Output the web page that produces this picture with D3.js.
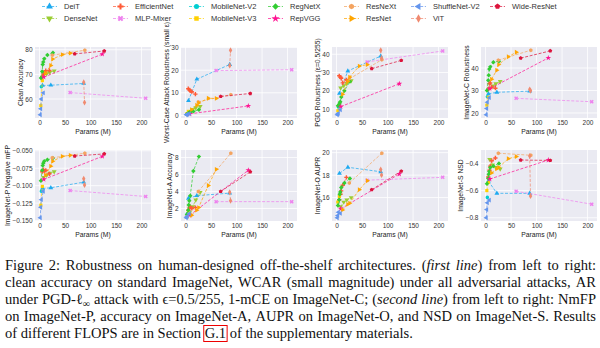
<!DOCTYPE html>
<html>
<head>
<meta charset="utf-8">
<script src="https://cdn.jsdelivr.net/npm/d3@7"></script>
<style>
  body { margin: 0; background: #fff; }
  svg { display: block; }
  .sans { font-family: "Liberation Sans", Arial, sans-serif; }
  .serif { font-family: "Liberation Serif", "Times New Roman", serif; }
</style>
</head>
<body>
<svg id="fig" width="600" height="348"></svg>
<script>
// -------------------- DATA -------------------- //
const families = ["DeiT", "DenseNet", "EfficientNet", "MLP-Mixer", "MobileNet-V2", "MobileNet-V3",
  "RegNetX", "RepVGG", "ResNeXt", "ResNet", "ShuffleNet-V2", "ViT", "Wide-ResNet"];

// params (M) of every model in a family
const paramsM = [
  [5.7, 22.1, 86.6], [8.0, 14.1, 20.0, 28.7], [5.3, 7.8, 9.1, 12.2, 19.3], [59.9, 208.2], [3.5], [2.5, 5.5],
  [2.7, 5.2, 6.2, 7.3, 9.2, 15.3, 26.2], [8.3, 123.1], [25.0, 88.8], [11.7, 21.8, 25.6, 44.5, 60.2],
  [1.4, 2.3, 3.5, 7.4], [86.6, 88.2], [68.9, 126.9]
];

const cleanAcc = [
  [65.5, 65.6, 66.3], [69.6, 70.3, 70.8, 71.4], [69.2, 70.2, 70.8, 71.5, 71.6], [62.6, 60.3], [65.0], [57.3, 67.5],
  [68.5, 71.2, 74.0, 75.0, 76.3, 77.9, 78.8], [68.9, 78.2], [77.8, 79.8], [70.5, 73.6, 76.2, 78.0, 78.6],
  [53.6, 56.0, 60.0, 62.5], [66.8, 58.6], [78.3, 79.5]
];
const wcar = [
  [6.5, 16.0, 22.5], [1.8, 2.6, 3.4, 4.0], [11.8, 11.3, 10.9, 10.5, 9.4], [19.8, 20.2], [0.9], [0.8, 1.8],
  [0.5, 0.9, 1.1, 1.3, 1.5, 1.8, 2.5], [0.7, 4.2], [6.0, 9.2], [2.6, 4.5, 5.5, 7.6, 7.5],
  [0.3, 0.4, 0.5, 0.7], [22.0, 28.8], [8.4, 9.7]
];
const pgdAR = [
  [18.5, 30.8, 39.0], [21.5, 22.8, 24.0, 25.5], [28.2, 27.4, 26.8, 24.3, 26.0], [35.8, 41.8], [11.0], [9.0, 12.0],
  [11.8, 12.5, 13.2, 14.0, 16.5, 20.0, 25.0], [11.3, 23.8], [26.5, 37.0], [18.0, 25.0, 27.5, 33.5, 34.3],
  [6.8, 7.2, 7.6, 9.5], [42.2, 37.8], [32.1, 36.6]
];
const inetC = [
  [28.5, 29.2, 29.7], [31.0, 32.0, 33.0, 34.0], [30.6, 33.0, 33.4, 31.5, 31.0], [26.5, 25.0], [27.2], [23.5, 27.0],
  [30.0, 34.5, 36.8, 39.5, 40.5, 42.6, 43.0], [30.8, 44.5], [43.5, 47.9], [35.0, 39.0, 41.5, 45.0, 47.0],
  [19.2, 22.0, 24.8, 26.8], [30.5, 29.9], [44.4, 47.6]
];
const inetP = [
  [-0.104, -0.103, -0.095], [-0.088, -0.085, -0.082, -0.080], [-0.080, -0.077, -0.079, -0.078, -0.083],
  [-0.107, -0.1155], [-0.108], [-0.128, -0.101], [-0.093, -0.078, -0.071, -0.068, -0.065, -0.063, -0.0605],
  [-0.091, -0.058], [-0.060, -0.0535], [-0.085, -0.072, -0.065, -0.058, -0.0565],
  [-0.146, -0.131, -0.120, -0.108], [-0.090, -0.099], [-0.0575, -0.0545]
];
const inetA = [
  [3.2, 3.5, 3.8], [1.5, 2.2, 3.0, 3.9], [1.8, 2.1, 2.2, 2.0, 2.1], [2.8, 2.8], [1.4], [1.0, 1.5],
  [1.3, 1.8, 2.4, 2.9, 3.5, 6.4, 8.1], [1.2, 6.5], [4.0, 8.5], [1.2, 1.8, 2.1, 4.7, 6.6],
  [0.9, 1.0, 1.1, 1.4], [3.9, 2.9], [4.0, 6.3]
];
const inetO = [
  [18.15, 18.7, 18.3], [15.2, 15.6, 15.8, 16.0], [15.8, 16.3, 16.6, 17.1, 17.8], [17.55, 17.8], [15.6], [15.6, 16.1],
  [15.3, 15.8, 16.3, 16.5, 16.9, 17.3, 17.7], [15.0, 18.1], [17.3, 19.95], [14.9, 15.4, 15.5, 16.7, 17.5],
  [14.2, 14.4, 14.7, 14.6], [18.5, 18.0], [16.7, 18.35]
];
const inetS = [
  [-0.53, -0.62, -0.62], [-0.37, -0.41, -0.43, -0.44], [-0.50, -0.45, -0.42, -0.38, -0.36], [-0.605, -0.70], [-0.65],
  [-0.60, -0.54], [-0.55, -0.51, -0.48, -0.46, -0.43, -0.42, -0.40], [-0.515, -0.375], [-0.325, -0.34],
  [-0.47, -0.44, -0.43, -0.365, -0.35], [-0.80, -0.74, -0.69, -0.67], [-0.345, -0.64], [-0.375, -0.378]
];

const panelValues = [cleanAcc, wcar, pgdAR, inetC, inetP, inetA, inetO, inetS];
const panelLabels = ["Clean Accuracy", "Worst-Case Attack Robustness (small \u03b5)", "PGD Robustness (\u03b5=0.5/255)",
  "ImageNet-C Robustness", "ImageNet-P Negative mFP", "ImageNet-A Accuracy", "ImageNet-O AUPR", "ImageNet-S NSD"];
const panelTicks = [[60, 70, 80], [0, 10, 20, 30], [10, 20, 30, 40], [20, 30, 40],
  [-0.150, -0.125, -0.100, -0.075, -0.050], [2, 4, 6, 8], [16, 18, 20], [-0.8, -0.6, -0.4]];
const panelFormats = ["d", "d", "d", "d", ".3f", "d", "d", ".1f"];
const xTicks = [0, 50, 100, 150, 200];
const xLabel = "Params (M)";

const captionLines = [
  "Figure 2: Robustness on human-designed off-the-shelf architectures. (*first* *line*) from left to right:",
  "clean accuracy on standard ImageNet, WCAR (small magnitude) under all adversarial attacks, AR",
  "under PGD-\u2113_{\u221e} attack with \u03f5=0.5/255, 1-mCE on ImageNet-C; (*second* *line*) from left to right: NmFP",
  "on ImageNet-P, accuracy on ImageNet-A, AUPR on ImageNet-O, and NSD on ImageNet-S. Results",
  "of different FLOPS are in Section [G.1] of the supplementary materials."
];

// -------------------- STYLE -------------------- //
const familyColors = ["#1eaaf0", "#9acd32", "#ff5a36", "#ee82ee", "#00ced1", "#ffd000",
  "#32cd32", "#ff1493", "#f4a460", "#ffa500", "#6495ed", "#f08a70", "#dc143c"];
const familyMarkers = ["triUp", "triDown", "plus", "xcross", "circle", "square",
  "diamond", "star", "hexagon", "triRight", "triLeft", "thinDiamond", "pentagon"];

const colLefts = [35, 181, 332, 481];
const rowTops = [47, 150];
const plotW = 116, plotH = 71;

// -------------------- MARKERS -------------------- //
function polygon(n) {
  return {
    draw(ctx, size) {
      const r = Math.sqrt(size / (n / 2 * Math.sin(2 * Math.PI / n)));
      for (let i = 0; i < n; i++) {
        const a = 2 * Math.PI * i / n;
        const px = r * Math.sin(a), py = -r * Math.cos(a);
        if (i) ctx.lineTo(px, py); else ctx.moveTo(px, py);
      }
      ctx.closePath();
    }
  };
}
const markerDefs = {
  triUp: [d3.symbolTriangle, 0], triDown: [d3.symbolTriangle, 180], triRight: [d3.symbolTriangle, 90],
  triLeft: [d3.symbolTriangle, -90], plus: [d3.symbolCross, 0], xcross: [d3.symbolCross, 45],
  circle: [d3.symbolCircle, 0], square: [d3.symbolSquare, 0], diamond: [d3.symbolSquare, 45],
  star: [d3.symbolStar, 0], hexagon: [polygon(6), 0], thinDiamond: [d3.symbolDiamond, 0], pentagon: [polygon(5), 0]
};
function drawMarker(sel, kind, size, cx, cy, color) {
  const [type, rot] = markerDefs[kind];
  sel.append("path")
    .attr("d", d3.symbol().type(type).size(size)())
    .attr("transform", `translate(${cx},${cy}) rotate(${rot})`)
    .attr("fill", color);
}

// -------------------- FIGURE -------------------- //
const svg = d3.select("#fig");
svg.append("rect").attr("width", 600).attr("height", 348).attr("fill", "#fff");

function padExtent(vals) {
  const [a, b] = d3.extent(vals);
  const p = (b - a) * 0.05;
  return [a - p, b + p];
}
const xDomain = padExtent(paramsM.flat());

panelValues.forEach((values, i) => {
  const col = i % 4, row = Math.floor(i / 4);
  const x0 = colLefts[col], y0 = rowTops[row];
  const x = d3.scaleLinear().domain(xDomain).range([x0, x0 + plotW]);
  const y = d3.scaleLinear().domain(padExtent(values.flat())).range([y0 + plotH, y0]);
  const g = svg.append("g");

  g.append("rect").attr("x", x0).attr("y", y0).attr("width", plotW).attr("height", plotH).attr("fill", "#eaeaf2");
  g.selectAll(".gx").data(xTicks).join("line")
    .attr("x1", d => x(d)).attr("x2", d => x(d)).attr("y1", y0).attr("y2", y0 + plotH)
    .attr("stroke", "#fff").attr("stroke-width", 0.8);
  g.selectAll(".gy").data(panelTicks[i]).join("line")
    .attr("x1", x0).attr("x2", x0 + plotW).attr("y1", d => y(d)).attr("y2", d => y(d))
    .attr("stroke", "#fff").attr("stroke-width", 0.8);

  // axes (labels only)
  const ax = g.append("g").attr("transform", `translate(0,${y0 + plotH})`)
    .call(d3.axisBottom(x).tickValues(xTicks).tickSize(0).tickPadding(2.5).tickFormat(d3.format("d")));
  const ay = g.append("g").attr("transform", `translate(${x0},0)`)
    .call(d3.axisLeft(y).tickValues(panelTicks[i]).tickSize(0).tickPadding(2.5).tickFormat(d3.format(panelFormats[i])));
  [ax, ay].forEach(a => {
    a.select(".domain").remove();
    a.attr("font-family", null).attr("font-size", null);
    a.selectAll("text").attr("class", "sans").attr("font-size", 6.5).attr("fill", "#333");
  });

  g.append("text").attr("class", "sans").attr("font-size", 6.8).attr("fill", "#222")
    .attr("x", x0 + plotW / 2).attr("y", y0 + plotH + 16).attr("text-anchor", "middle").text(xLabel);
  const yb = ay.node().getBBox();
  g.append("text").attr("class", "sans").attr("font-size", 6.8).attr("fill", "#222")
    .attr("transform", `translate(${x0 + yb.x - 2.5},${y0 + plotH / 2}) rotate(-90)`)
    .attr("text-anchor", "middle").text(panelLabels[i]);

  // series
  const line = d3.line().x(d => x(d[0])).y(d => y(d[1]));
  families.forEach((f, k) => {
    const pts = paramsM[k].map((p, j) => [p, values[k][j]]);
    g.append("path").attr("d", line(pts)).attr("fill", "none")
      .attr("stroke", familyColors[k]).attr("stroke-width", 0.9)
      .attr("stroke-dasharray", "3,1.6").attr("opacity", 0.8);
    pts.forEach(p => drawMarker(g, familyMarkers[k], 10, x(p[0]), y(p[1]), familyColors[k]));
  });
});

// -------------------- LEGEND -------------------- //
const legendTextX = [64, 135, 211, 290, 366, 433, 512];
const legendRowY = [6.5, 18.5];
const lg = svg.append("g");
families.forEach((f, k) => {
  const tx = legendTextX[Math.floor(k / 2)], ty = legendRowY[k % 2];
  lg.append("line").attr("x1", tx - 22).attr("x2", tx - 7).attr("y1", ty).attr("y2", ty)
    .attr("stroke", familyColors[k]).attr("stroke-width", 0.9).attr("stroke-dasharray", "3,1.6").attr("opacity", 0.8);
  drawMarker(lg, familyMarkers[k], 20, tx - 14.5, ty, familyColors[k]);
  lg.append("text").attr("class", "sans").attr("font-size", 7.5).attr("fill", "#333")
    .attr("x", tx).attr("y", ty + 2.7).text(f);
});

// -------------------- CAPTION -------------------- //
const capLeft = 5, capRight = 596, capBase = 270, capStep = 17, lastLineRight = 413;
const cap = svg.append("g").attr("class", "serif").attr("fill", "#111");
const rows = captionLines.map((ln, i) => {
  const words = ln.split(" ");
  const nodes = words.map(w => {
    const t = cap.append("text").attr("font-size", 13).attr("y", capBase + i * capStep);
    w.split(/(\*[^*]+\*|_\{[^}]+\}|\[[^\]]+\])/).filter(s => s).forEach(s => {
      const ts = t.append("tspan");
      if (s.startsWith("*")) ts.attr("font-style", "italic").text(s.slice(1, -1));
      else if (s.startsWith("_{")) ts.attr("font-size", "0.7em").attr("dy", "0.25em").text(s.slice(2, -1));
      else if (s.startsWith("[")) { ts.text(s.slice(1, -1)); t.classed("boxed", true); }
      else ts.text(s);
    });
    return t;
  });
  return nodes;
});
// scale font so that the last (unjustified) line matches the reference length
const last = rows[rows.length - 1];
const natural = d3.sum(last, n => n.node().getComputedTextLength()) + (last.length - 1) * 13 * 0.25;
const fs = 13 * (lastLineRight - capLeft) / natural;
rows.forEach((nodes, i) => {
  nodes.forEach(n => n.attr("font-size", fs));
  const widths = nodes.map(n => n.node().getComputedTextLength());
  const justify = i < rows.length - 1;
  const gap = justify ? (capRight - capLeft - d3.sum(widths)) / (nodes.length - 1) : fs * 0.25;
  let cx = capLeft;
  nodes.forEach((n, k) => { n.attr("x", cx); cx += widths[k] + gap; });
});
cap.selectAll("text.boxed").each(function () {
  const b = this.getBBox();
  cap.append("rect").attr("x", b.x - 1).attr("y", b.y + 0.5).attr("width", b.width + 2).attr("height", b.height)
    .attr("fill", "none").attr("stroke", "#e00").attr("stroke-width", 1);
});
</script>
</body>
</html>
